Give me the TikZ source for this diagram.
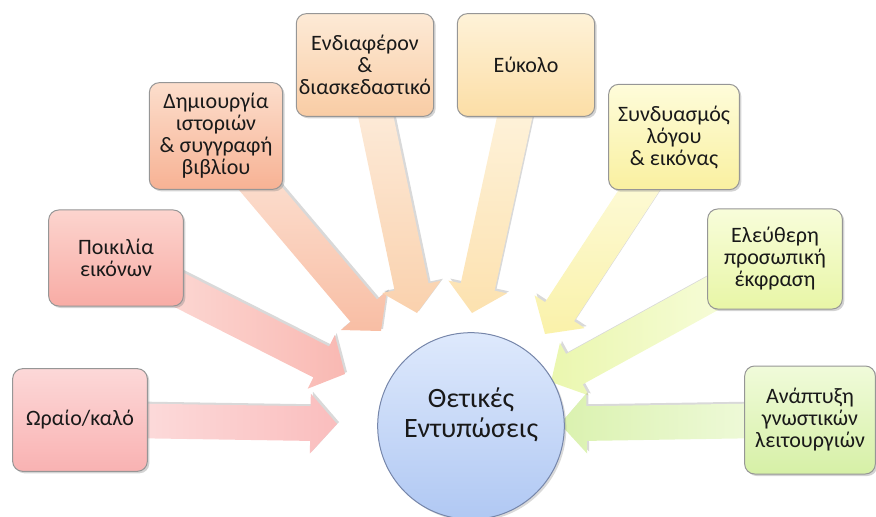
\documentclass[tikz,border=0pt]{standalone}
\usepackage{fontspec}
\setmainfont{Carlito}
\usetikzlibrary{calc,shadows,backgrounds}

\definecolor{oraioA}{RGB}{252,216,216}
\definecolor{oraioB}{RGB}{249,178,178}
\definecolor{poikA}{RGB}{252,212,206}
\definecolor{poikB}{RGB}{248,172,165}
\definecolor{dimA}{RGB}{252,222,204}
\definecolor{dimB}{RGB}{247,178,148}
\definecolor{endA}{RGB}{253,234,214}
\definecolor{endB}{RGB}{249,204,164}
\definecolor{eukA}{RGB}{254,242,216}
\definecolor{eukB}{RGB}{252,222,166}
\definecolor{synA}{RGB}{254,252,218}
\definecolor{synB}{RGB}{249,240,160}
\definecolor{eleA}{RGB}{248,253,218}
\definecolor{eleB}{RGB}{232,246,166}
\definecolor{anaA}{RGB}{240,251,218}
\definecolor{anaB}{RGB}{214,240,166}
\definecolor{hubA}{RGB}{222,233,252}
\definecolor{hubB}{RGB}{176,200,243}
\definecolor{hubline}{RGB}{118,134,170}
\definecolor{boxline}{RGB}{150,150,150}
\definecolor{ink}{RGB}{25,25,25}

\tikzset{every picture/.style={line width=0.75pt}}
\tikzset{
  idea/.style={draw=boxline, rounded corners=7.5pt, align=center, text=ink,
    minimum width=101pt, minimum height=77pt, inner sep=2pt,
    font=\fontsize{16.5}{16.5}\selectfont,
    drop shadow={shadow xshift=1.5pt, shadow yshift=-1.5pt, opacity=0.35}},
  hub/.style={circle, draw=hubline, minimum size=140pt, align=center, text=ink,
    top color=hubA, bottom color=hubB, text depth=20pt,
    font=\fontsize{21}{23}\selectfont,
    drop shadow={shadow xshift=1.5pt, shadow yshift=-1.5pt, opacity=0.3}},
  bigarrowbody/.style={draw=none,
    drop shadow={shadow xshift=1.5pt, shadow yshift=1.5pt, opacity=0.3}}
}

% block arrow from #2 (start) to #3 (tip)
\newcommand{\bigarrow}[3][]{%
  \coordinate (hb) at ($(#3)!20pt!(#2)$);
  \path[bigarrowbody,#1] ($(#2)!13pt!90:(#3)$) -- ($(hb)!13pt!90:(#3)$) -- ($(hb)!22.5pt!90:(#3)$) -- (#3)
    -- ($(hb)!22.5pt!-90:(#3)$) -- ($(hb)!13pt!-90:(#3)$) -- ($(#2)!13pt!-90:(#3)$) -- cycle;
}

\begin{document}
\begin{tikzpicture}[x=0.75pt,y=0.75pt,yscale=-1,xscale=1]
	\useasboundingbox (0,0) rectangle (876,517);

	%Shape: Circle
	\node[hub] (thetikes) at (471,426) {Θετικές\\Εντυπώσεις};

	%Shape: Rectangle
	\node[idea, top color=oraioA, bottom color=oraioB] (oraio) at (80,420) {Ωραίο/καλό};
	%Shape: Rectangle
	\node[idea, top color=poikA, bottom color=poikB, minimum height=72pt] (poikilia) at (116,258) {Ποικιλία\\εικόνων};
	%Shape: Rectangle
	\node[idea, top color=dimA, bottom color=dimB, minimum height=80pt, minimum width=100pt] (dimiourgia) at (216,136) {Δημιουργία\\ιστοριών\\\& συγγραφή\\βιβλίου};
	%Shape: Rectangle
	\node[idea, top color=endA, bottom color=endB] (endiaferon) at (365,65) {Ενδιαφέρον\\\&\\διασκεδαστικό};
	%Shape: Rectangle
	\node[idea, top color=eukA, bottom color=eukB, minimum width=103pt] (eukolo) at (526,65) {Εύκολο};
	%Shape: Rectangle
	\node[idea, top color=synA, bottom color=synB, minimum width=98pt, minimum height=79pt] (syndyasmos) at (674,137) {Συνδυασμός\\λόγου\\\& εικόνας};
	%Shape: Rectangle
	\node[idea, top color=eleA, bottom color=eleB, minimum height=75pt] (eleftheri) at (775,259) {Ελεύθερη\\προσωπική\\έκφραση};
	%Shape: Rectangle
	\node[idea, top color=anaA, bottom color=anaB, minimum width=98pt, minimum height=81pt] (anaptyxi) at (810,420) {Ανάπτυξη\\γνωστικών\\λειτουργιών};

	% arrow tips
	\coordinate (tipOraio) at (337,424);
	\coordinate (tipPoikilia) at (345,374);
	\coordinate (tipDimiourgia) at (381,331);
	\coordinate (tipEndiaferon) at (417,313);
	\coordinate (tipEukolo) at (472,313);
	\coordinate (tipSyndyasmos) at (545,334);
	\coordinate (tipEleftheri) at (551,382);
	\coordinate (tipAnaptyxi) at (560,424);

	\begin{pgfonlayer}{background}
	%Shape: Block Arrows
	\bigarrow[left color=oraioA!70, right color=oraioB!85]{oraio.center}{tipOraio}
	\bigarrow[left color=poikA!70, right color=poikB!85]{poikilia.center}{tipPoikilia}
	\bigarrow[top color=dimA!70, bottom color=dimB!85]{dimiourgia.center}{tipDimiourgia}
	\bigarrow[top color=endA!70, bottom color=endB!90]{endiaferon.center}{tipEndiaferon}
	\bigarrow[top color=eukA!70, bottom color=eukB!90]{eukolo.center}{tipEukolo}
	\bigarrow[top color=synA!70, bottom color=synB!90]{syndyasmos.center}{tipSyndyasmos}
	\bigarrow[right color=eleA!70, left color=eleB!90]{eleftheri.center}{tipEleftheri}
	\bigarrow[right color=anaA!70, left color=anaB!90]{anaptyxi.center}{tipAnaptyxi}
	\end{pgfonlayer}

\end{tikzpicture}
\end{document}
